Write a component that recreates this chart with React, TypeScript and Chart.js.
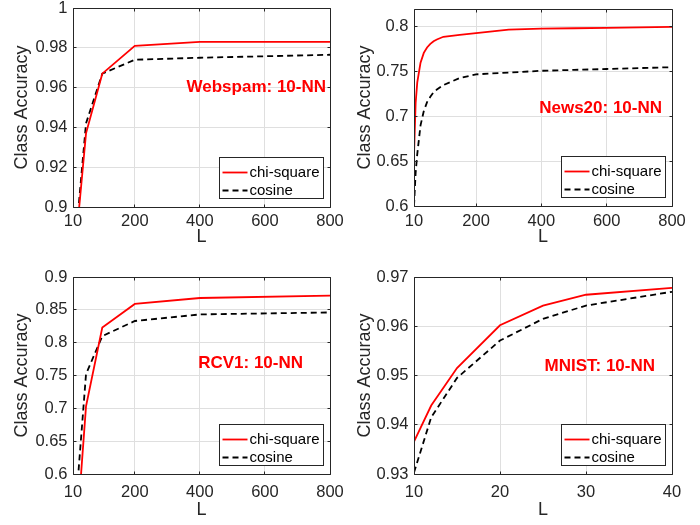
import React, { useEffect, useRef } from 'react';
import { Chart, registerables } from 'chart.js';

Chart.register(...registerables);

// ---------------- data ----------------
const SERIES_NAMES = ['chi-square', 'cosine'];
const PANEL_TITLES = ['Webspam: 10-NN', 'News20: 10-NN', 'RCV1: 10-NN', 'MNIST: 10-NN'];
const X_LABEL = 'L';
const Y_LABEL = 'Class Accuracy';

const WEBSPAM_L = [20, 50, 100, 200, 400, 800];
const WEBSPAM_CHI = [0.884, 0.937, 0.967, 0.981, 0.983, 0.983];
const WEBSPAM_COS = [0.887, 0.942, 0.967, 0.974, 0.975, 0.9765];

const NEWS20_L = [10, 15, 20, 30, 40, 50, 60, 70, 80, 100, 150, 200, 300, 400, 500, 600, 700, 800];
const NEWS20_CHI = [0.657, 0.715, 0.738, 0.76, 0.771, 0.777, 0.781, 0.784, 0.786, 0.789, 0.791, 0.793, 0.797, 0.798, 0.7985, 0.799, 0.7995, 0.8];
const NEWS20_COS = [0.6, 0.637, 0.658, 0.69, 0.706, 0.716, 0.722, 0.727, 0.73, 0.735, 0.743, 0.747, 0.749, 0.751, 0.752, 0.753, 0.754, 0.755];

const RCV1_L = [20, 50, 100, 200, 400, 800];
const RCV1_CHI = [0.5, 0.703, 0.823, 0.859, 0.868, 0.8715];
const RCV1_COS = [0.56, 0.752, 0.81, 0.833, 0.843, 0.846];

const MNIST_L = [10, 12, 15, 20, 25, 30, 40];
const MNIST_CHI = [0.9366, 0.9439, 0.9515, 0.9602, 0.9642, 0.9664, 0.9678];
const MNIST_COS = [0.9303, 0.9415, 0.9495, 0.9571, 0.9615, 0.9642, 0.967];

const X_TICKS_WIDE = [10, 200, 400, 600, 800];
const X_TICKS_MNIST = [10, 20, 30, 40];
const Y_TICKS_WEBSPAM = [0.9, 0.92, 0.94, 0.96, 0.98, 1];
const Y_TICKS_NEWS20 = [0.6, 0.65, 0.7, 0.75, 0.8];
const Y_TICKS_RCV1 = [0.6, 0.65, 0.7, 0.75, 0.8, 0.85, 0.9];
const Y_TICKS_MNIST = [0.93, 0.94, 0.95, 0.96, 0.97];

const X_RANGE_WIDE = [10, 800];
const X_RANGE_MNIST = [10, 40];
const Y_RANGE_WEBSPAM = [0.9, 1];
const Y_RANGE_NEWS20 = [0.6, 0.82];
const Y_RANGE_RCV1 = [0.6, 0.9];
const Y_RANGE_MNIST = [0.93, 0.97];

// ---------------- styling / layout ----------------
const W = 700;
const H = 525;
const FONT = "'Liberation Sans', Arial, Helvetica, sans-serif";
const AXIS_COLOR = '#262626';
const GRID_COLOR = '#dfdfdf';
const RED = '#ff0000';
const BLACK = '#000000';
const Y_AXIS_W = 70;

type Panel = {
  L: number[]; chi: number[]; cos: number[];
  xTicks: number[]; yTicks: number[]; xRange: number[]; yRange: number[];
  title: string;
  area: { left: number; top: number; right: number; bottom: number };
  yTitleX: number; xTitleY: number; xTickY: number;
  titleDx: number; titleY: number;
};

const PANELS: Panel[] = [
  {
    L: WEBSPAM_L, chi: WEBSPAM_CHI, cos: WEBSPAM_COS,
    xTicks: X_TICKS_WIDE, yTicks: Y_TICKS_WEBSPAM, xRange: X_RANGE_WIDE, yRange: Y_RANGE_WEBSPAM,
    title: PANEL_TITLES[0],
    area: { left: 73, top: 8, right: 330, bottom: 207 },
    yTitleX: 21.7, xTitleY: 237.3, xTickY: 221.7, titleDx: 4, titleY: 87.5,
  },
  {
    L: NEWS20_L, chi: NEWS20_CHI, cos: NEWS20_COS,
    xTicks: X_TICKS_WIDE, yTicks: Y_TICKS_NEWS20, xRange: X_RANGE_WIDE, yRange: Y_RANGE_NEWS20,
    title: PANEL_TITLES[1],
    area: { left: 414, top: 9, right: 672, bottom: 206 },
    yTitleX: 365, xTitleY: 237, xTickY: 221.7, titleDx: 10, titleY: 108.3,
  },
  {
    L: RCV1_L, chi: RCV1_CHI, cos: RCV1_COS,
    xTicks: X_TICKS_WIDE, yTicks: Y_TICKS_RCV1, xRange: X_RANGE_WIDE, yRange: Y_RANGE_RCV1,
    title: PANEL_TITLES[2],
    area: { left: 73, top: 277, right: 330, bottom: 474 },
    yTitleX: 21.7, xTitleY: 510.3, xTickY: 492, titleDx: 27, titleY: 363,
  },
  {
    L: MNIST_L, chi: MNIST_CHI, cos: MNIST_COS,
    xTicks: X_TICKS_MNIST, yTicks: Y_TICKS_MNIST, xRange: X_RANGE_MNIST, yRange: Y_RANGE_MNIST,
    title: PANEL_TITLES[3],
    area: { left: 414, top: 277, right: 672, bottom: 474 },
    yTitleX: 365, xTitleY: 510.3, xTickY: 492, titleDx: 17, titleY: 366.3,
  },
];

function align(v: number) {
  return Math.round(v - 0.5) + 0.5;
}

function decorPlugin(p: Panel, idx: number) {
  return {
    id: 'decor' + idx,
    afterDraw(chart: any) {
      const { ctx, chartArea: a } = chart;
      const xs = chart.scales.x;
      const ys = chart.scales.y;
      ctx.save();
      const l = align(a.left), r = align(a.right), t = align(a.top), b = align(a.bottom);
      ctx.strokeStyle = AXIS_COLOR;
      ctx.lineWidth = 1;
      ctx.beginPath();
      ctx.rect(l, t, r - l, b - t);
      ctx.stroke();
      // inward ticks
      const tl = 3;
      ctx.beginPath();
      p.xTicks.forEach((v) => {
        const x = align(xs.getPixelForValue(v));
        ctx.moveTo(x, b); ctx.lineTo(x, b - tl);
        ctx.moveTo(x, t); ctx.lineTo(x, t + tl);
      });
      p.yTicks.forEach((v) => {
        const y = align(ys.getPixelForValue(v));
        ctx.moveTo(l, y); ctx.lineTo(l + tl, y);
        ctx.moveTo(r, y); ctx.lineTo(r - tl, y);
      });
      ctx.stroke();

      // annotation title
      ctx.fillStyle = RED;
      ctx.font = `bold 17px ${FONT}`;
      ctx.textAlign = 'right';
      ctx.textBaseline = 'middle';
      ctx.fillText(p.title, a.right - p.titleDx, p.titleY);

      // legend
      const bw = 104, bh = 41;
      const bx = Math.round(a.right - 7 - bw) + 0.5;
      const by = Math.round(a.bottom - 9 - bh) + 0.5;
      ctx.fillStyle = '#ffffff';
      ctx.fillRect(bx, by, bw, bh);
      ctx.strokeStyle = AXIS_COLOR;
      ctx.lineWidth = 1;
      ctx.strokeRect(bx, by, bw, bh);
      const rows = [by + 15, by + 33];
      const colors = [RED, BLACK];
      const dashes = [[], [6, 4]];
      rows.forEach((ry, i) => {
        ctx.strokeStyle = colors[i];
        ctx.lineWidth = 1.8;
        ctx.setLineDash(dashes[i]);
        ctx.beginPath();
        ctx.moveTo(bx + 3, ry);
        ctx.lineTo(bx + 28, ry);
        ctx.stroke();
        ctx.setLineDash([]);
        ctx.fillStyle = BLACK;
        ctx.font = `15px ${FONT}`;
        ctx.textAlign = 'left';
        ctx.textBaseline = 'middle';
        ctx.fillText(SERIES_NAMES[i], bx + 30, ry);
      });
      ctx.restore();
    },
  };
}

function makeConfig(p: Panel, idx: number): any {
  const a = p.area;
  const xAxisH = p.xTitleY - a.bottom + 10.8;
  const tickFont = { family: FONT, size: 16.5 };
  const titleFont = { family: FONT, size: 18 };
  return {
    type: 'line',
    data: {
      datasets: [
        {
          label: SERIES_NAMES[0],
          data: p.L.map((x, i) => ({ x, y: p.chi[i] })),
          borderColor: RED, borderWidth: 1.8, pointRadius: 0, fill: false, tension: 0,
        },
        {
          label: SERIES_NAMES[1],
          data: p.L.map((x, i) => ({ x, y: p.cos[i] })),
          borderColor: BLACK, borderWidth: 1.8, borderDash: [6, 4], pointRadius: 0, fill: false, tension: 0,
        },
      ],
    },
    options: {
      responsive: false,
      animation: false,
      devicePixelRatio: 1,
      events: [],
      layout: {
        padding: {
          left: a.left - Y_AXIS_W,
          top: a.top,
          right: W - a.right,
          bottom: H - a.bottom - xAxisH,
        },
      },
      plugins: { legend: { display: false }, tooltip: { enabled: false }, title: { display: false } },
      scales: {
        x: {
          type: 'linear',
          min: p.xRange[0],
          max: p.xRange[1],
          afterBuildTicks: (s: any) => { s.ticks = p.xTicks.map((v) => ({ value: v })); },
          afterFit: (s: any) => {
            s.height = xAxisH;
            s.paddingLeft = 0; s.paddingRight = 0; s.paddingTop = 0; s.paddingBottom = 0;
          },
          grid: { color: GRID_COLOR, lineWidth: 1, drawTicks: false, tickLength: 0 },
          border: { display: false },
          ticks: {
            font: tickFont, color: AXIS_COLOR, padding: p.xTickY - a.bottom - 9.9,
            maxRotation: 0, autoSkip: false, callback: (v: number) => String(v),
          },
          title: { display: true, text: X_LABEL, font: titleFont, color: AXIS_COLOR, padding: { top: 0, bottom: 0 } },
        },
        y: {
          type: 'linear',
          min: p.yRange[0],
          max: p.yRange[1],
          afterBuildTicks: (s: any) => { s.ticks = p.yTicks.map((v) => ({ value: v })); },
          afterFit: (s: any) => {
            s.width = Y_AXIS_W;
            s.paddingLeft = 0; s.paddingRight = 0; s.paddingTop = 0; s.paddingBottom = 0;
          },
          grid: { color: GRID_COLOR, lineWidth: 1, drawTicks: false, tickLength: 0 },
          border: { display: false },
          ticks: {
            font: tickFont, color: AXIS_COLOR, padding: 5.5,
            autoSkip: false, callback: (v: number) => String(v),
          },
          title: {
            display: true, text: Y_LABEL, font: titleFont, color: AXIS_COLOR,
            padding: { top: p.yTitleX - (a.left - Y_AXIS_W) - 10.8, bottom: 0 },
          },
        },
      },
    },
    plugins: [decorPlugin(p, idx)],
  };
}

function PanelCanvas({ p, idx }: { p: Panel; idx: number }) {
  const ref = useRef<HTMLCanvasElement | null>(null);
  useEffect(() => {
    if (!ref.current) return;
    const chart = new Chart(ref.current, makeConfig(p, idx));
    return () => chart.destroy();
  }, [p, idx]);
  return (
    <canvas
      ref={ref}
      width={W}
      height={H}
      style={{ position: 'absolute', left: 0, top: 0, width: W, height: H }}
    />
  );
}

export default function App() {
  return (
    <div style={{ position: 'fixed', left: 0, top: 0, width: W, height: H, background: '#ffffff', overflow: 'hidden' }}>
      {PANELS.map((p, i) => (
        <PanelCanvas key={i} p={p} idx={i} />
      ))}
    </div>
  );
}
